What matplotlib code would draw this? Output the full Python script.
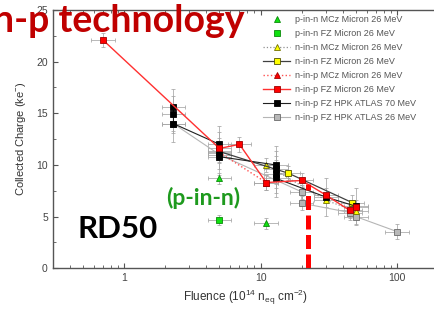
import numpy as np
import matplotlib
matplotlib.use("Agg")
import matplotlib.pyplot as plt
from matplotlib.ticker import LogLocator, NullFormatter, MultipleLocator, FixedLocator, FixedFormatter

# ---- data (fluence in 1e14 neq/cm2, charge in ke-) ----
pinn_mcz_x = [5, 11]
pinn_mcz_y = [8.7, 4.35]
pinn_fz_x = [5]
pinn_fz_y = [4.7]
ninn_mcz_x = [11, 30, 50]
ninn_mcz_y = [10.0, 6.6, 5.5]
ninn_fz_x = [5, 16, 47]
ninn_fz_y = [11.3, 9.2, 6.35]
ninp_mcz_x = [5, 11]
ninp_mcz_y = [11.2, 8.3]
ninp_fz_x = [0.7, 5, 7, 11, 20, 30, 45, 50]
ninp_fz_y = [22.1, 11.6, 12.0, 8.3, 8.5, 7.1, 5.6, 5.9]
hpk70_x = [2.3, 2.3, 2.3, 5, 5, 5, 13, 13, 13, 13, 30, 50]
hpk70_y = [15.6, 14.9, 14.0, 12.0, 11.4, 10.8, 10.0, 9.6, 9.1, 8.7, 6.9, 6.0]
hpk26_x = [2.3, 5, 20, 20, 45, 50, 100]
hpk26_y = [14.0, 11.0, 7.4, 6.3, 5.4, 5.0, 3.55]

labels = ["p-in-n MCz Micron 26 MeV", "p-in-n FZ Micron 26 MeV",
          "n-in-n MCz Micron 26 MeV", "n-in-n FZ Micron 26 MeV",
          "n-in-p MCz Micron 26 MeV", "n-in-p FZ Micron 26 MeV",
          "n-in-p FZ HPK ATLAS 70 MeV", "n-in-p FZ HPK ATLAS 26 MeV"]
marker_line_fluence = 22.4
marker_line_top = 8.2
yticks = [0, 5, 10, 15, 20, 25]

W, H = 435, 313
fig = plt.figure(figsize=(W / 100, H / 100), dpi=100)
ax = fig.add_axes([52.7 / W, (H - 268.3) / H, 385.5 / W, 258.3 / H])
ax.set_xscale("log")
ax.set_xlim(0.3, 200)
ax.set_ylim(0, 25)

def xerr_of(x, f=1.22):
    x = np.asarray(x, float)
    return np.vstack([x - x / f, x * f - x])

def series(x, y, marker, fc, ec, ls, lc, lw, label, yerr=0.7, ms=5, z=3):
    ax.errorbar(x, y, xerr=xerr_of(x), yerr=yerr, fmt="none", ecolor="#a5a5a5",
                elinewidth=0.55, capsize=1.5, capthick=0.55, zorder=1)
    ax.plot(x, y, linestyle=ls, color=lc, lw=lw, marker=marker, ms=ms,
            mfc=fc, mec=ec, mew=0.6, label=label, zorder=z)

series(hpk26_x, hpk26_y, "s", "#b8b8b8", "#6a6a6a", "-", "#b5b5b5", 0.8, labels[7], z=2)
series(pinn_mcz_x, pinn_mcz_y, "^", "#10e010", "#0a8a0a", "none", "none", 0, labels[0], yerr=0.5)
series(pinn_fz_x, pinn_fz_y, "s", "#10e010", "#0a8a0a", "none", "none", 0, labels[1], yerr=0.5)
series(ninn_mcz_x, ninn_mcz_y, "^", "#ffff00", "#707000", ":", "#909090", 0.9, labels[2])
series(ninn_fz_x, ninn_fz_y, "s", "#ffff00", "#505000", "-", "#404040", 0.9, labels[3])
series(ninp_mcz_x, ninp_mcz_y, "^", "#ff0000", "#a00000", ":", "#ff5050", 1.0, labels[4])
series(hpk70_x, hpk70_y, "s", "#000000", "#000000", "-", "#202020", 0.8, labels[6], yerr=1.8, z=4)
series(ninp_fz_x, ninp_fz_y, "s", "#ff0000", "#a00000", "-", "#ff3030", 1.0, labels[5], z=5)

# red dashed marker line
ax.plot([marker_line_fluence, marker_line_fluence], [0, marker_line_top], color="#ff0000",
        lw=3.6, dashes=(2.8, 1.1), solid_capstyle="butt", zorder=6)

# ticks & spines
for s in ["left", "bottom", "top"]:
    ax.spines[s].set_color("#555555")
    ax.spines[s].set_linewidth(1.0)
ax.spines["right"].set_visible(False)
ax.tick_params(axis="both", which="both", direction="in", colors="#555555",
               labelcolor="#444444", labelsize=7.5, top=True, right=False)
ax.tick_params(which="major", length=3.5, width=0.8)
ax.tick_params(which="minor", length=2, width=0.6)
ax.xaxis.set_major_locator(FixedLocator([1, 10, 100]))
ax.xaxis.set_major_formatter(FixedFormatter(["1", "10", "100"]))
ax.xaxis.set_minor_locator(LogLocator(base=10, subs=np.arange(2, 10), numticks=20))
ax.xaxis.set_minor_formatter(NullFormatter())
ax.yaxis.set_major_locator(FixedLocator(yticks))
ax.yaxis.set_minor_locator(MultipleLocator(2.5))
for lab in ax.get_xticklabels() + ax.get_yticklabels():
    lab.set_family(["Liberation Sans", "DejaVu Sans"])

ax.set_xlabel("Fluence (10$^{\\mathregular{14}}$ n$_{\\mathregular{eq}}$ cm$^{\\mathregular{-2}}$)",
              fontsize=8.5, color="#333333",
              family=["Liberation Sans", "DejaVu Sans"], labelpad=3)
ax.set_ylabel("Collected Charge (ke$^{\\mathregular{-}}$)", fontsize=8, color="#333333",
              family=["Liberation Sans", "DejaVu Sans"], labelpad=6)

# legend
handles, labs = ax.get_legend_handles_labels()
order = [labs.index(l) for l in labels]
leg = ax.legend([handles[i] for i in order], [labs[i] for i in order],
                loc="upper left", bbox_to_anchor=(263 / W, (H - 15) / H),
                bbox_transform=fig.transFigure, frameon=False,
                handlelength=3.0, handletextpad=0.5, labelspacing=0.55,
                borderpad=0, borderaxespad=0,
                prop={"family": ["Liberation Sans", "DejaVu Sans"], "size": 6.5})
for t in leg.get_texts():
    t.set_color("#555555")

# overlaid slide text
fig.text(245 / W, (H - 32) / H, "n-p technology", ha="right", va="baseline",
         fontsize=27, fontweight="bold", color="#c00000", family=["Lato", "DejaVu Sans"])
fig.text(78 / W, (H - 238) / H, "RD50", ha="left", va="baseline",
         fontsize=22.5, fontweight="bold", color="#000000", family=["Lato", "DejaVu Sans"])
fig.text(203 / W, (H - 198) / H, "(p-in-n)", ha="center", va="center",
         fontsize=16.5, fontweight="bold", color="#1e9a1e", family=["Lato", "DejaVu Sans"])

fig.savefig("out.png", dpi=100)
